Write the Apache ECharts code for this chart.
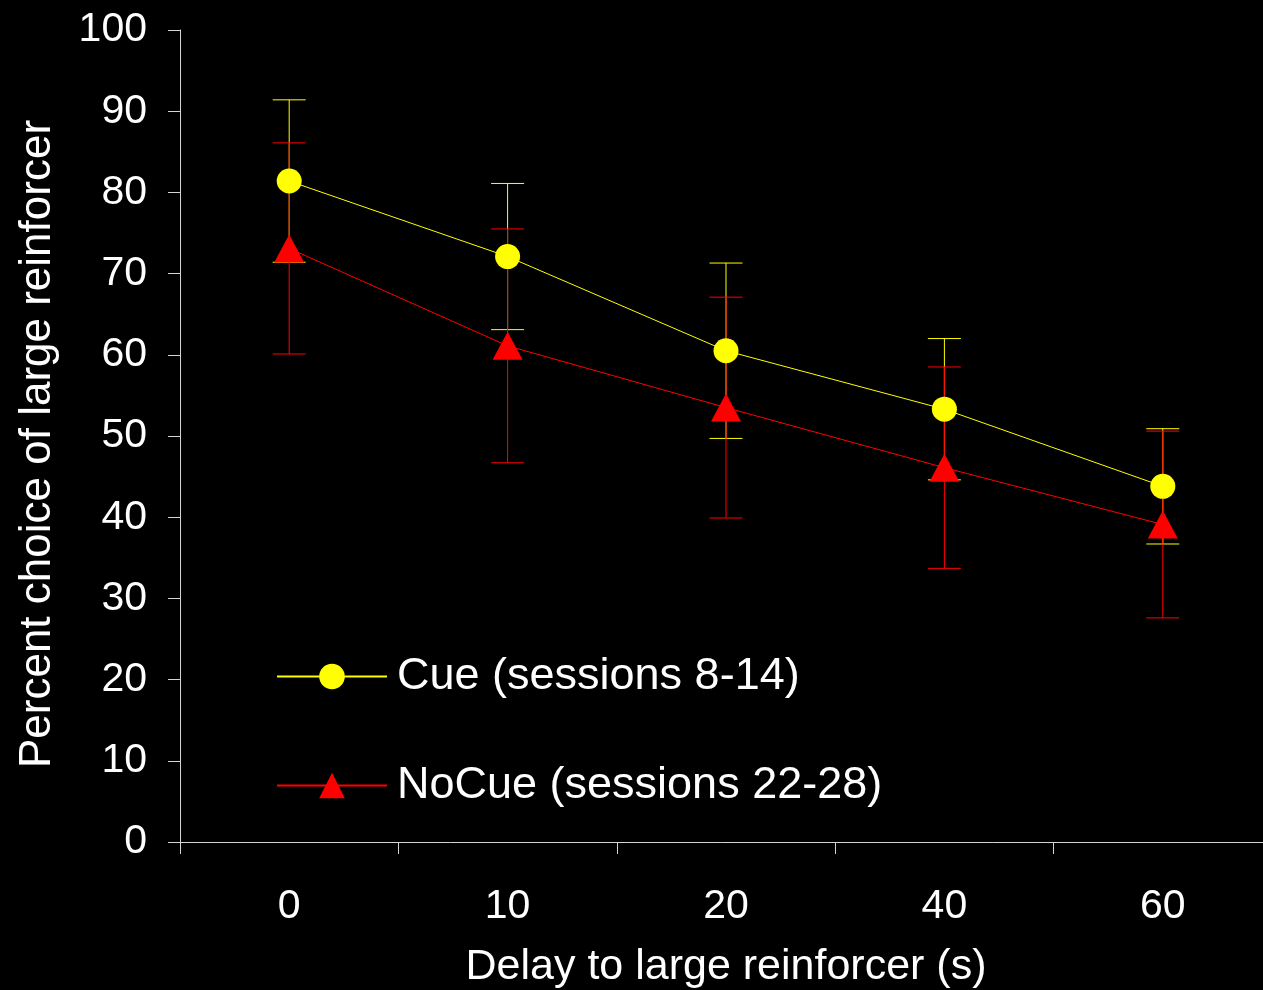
<!DOCTYPE html>
<html>
<head>
<meta charset="utf-8">
<title>Delay discounting: Cue vs NoCue</title>
<script src="https://cdn.jsdelivr.net/npm/echarts@6/dist/echarts.min.js"></script>
<style>
  html, body { margin: 0; padding: 0; background: #000; }
  #chart { width: 1263px; height: 990px; }
</style>
</head>
<body>
<div id="chart"></div>
<script>
// Delay to the large reinforcer (s), one category per delay
const delays = ['0', '10', '20', '40', '60'];

// Cue condition (sessions 8-14): mean % choice of large reinforcer and error
const cueMean = [81.4, 72.1, 60.5, 53.3, 43.8];
const cueErr = [10.0, 9.0, 10.8, 8.7, 7.1];

// NoCue condition (sessions 22-28)
const noCueMean = [73.1, 61.1, 53.5, 46.1, 39.1];
const noCueErr = [13.0, 14.4, 13.6, 12.4, 11.5];

const yTicks = { min: 0, max: 100, interval: 10 };

const CUE_NAME = 'Cue (sessions 8-14)';
const NOCUE_NAME = 'NoCue (sessions 22-28)';
const YELLOW = '#ffff00';
const RED = '#ff0000';
const AXIS = '#d4d4d4';
const FONT = '"Liberation Sans", Arial, sans-serif';

// Vertical error bars with caps, drawn through the chart's own coordinate system
function errorBars(name, means, errs, color) {
  return {
    type: 'custom',
    name: name,
    silent: true,
    z: 2,
    data: means.map((m, i) => [i, m - errs[i], m + errs[i]]),
    encode: { x: 0, y: [1, 2] },
    renderItem: function (params, api) {
      const i = api.value(0);
      const lo = api.coord([i, api.value(1)]);
      const hi = api.coord([i, api.value(2)]);
      const half = 16.5;
      const style = { stroke: color, lineWidth: 1 };
      return {
        type: 'group',
        children: [
          { type: 'line', shape: { x1: lo[0], y1: lo[1], x2: hi[0], y2: hi[1] }, style: style },
          { type: 'line', shape: { x1: lo[0] - half, y1: lo[1], x2: lo[0] + half, y2: lo[1] }, style: style },
          { type: 'line', shape: { x1: hi[0] - half, y1: hi[1], x2: hi[0] + half, y2: hi[1] }, style: style }
        ]
      };
    }
  };
}

const chart = echarts.init(document.getElementById('chart'), null, { renderer: 'canvas' });

chart.setOption({
  backgroundColor: '#000',
  animation: false,
  textStyle: { fontFamily: FONT },
  grid: {
    left: 180,
    top: 30,
    width: 1092,
    height: 812,
    containLabel: false,
    outerBoundsMode: 'none'
  },
  legend: {
    orient: 'vertical',
    left: 276,
    top: 654,
    padding: 0,
    itemWidth: 110,
    itemHeight: 32,
    itemGap: 64,
    data: [CUE_NAME, NOCUE_NAME],
    selectedMode: false,
    textStyle: {
      color: '#ffffff',
      fontSize: 45,
      fontFamily: FONT,
      lineHeight: 32,
      padding: [0, 0, 0, 5]
    }
  },
  xAxis: {
    type: 'category',
    data: delays,
    boundaryGap: true,
    name: 'Delay to large reinforcer (s)',
    nameLocation: 'middle',
    nameGap: 104,
    nameTextStyle: { color: '#ffffff', fontSize: 43, fontFamily: FONT },
    axisLine: { show: true, lineStyle: { color: AXIS, width: 1 } },
    axisTick: { show: true, alignWithLabel: false, length: 12, lineStyle: { color: AXIS } },
    axisLabel: { color: '#ffffff', fontSize: 41, margin: 44, fontFamily: FONT },
    splitLine: { show: false }
  },
  yAxis: {
    type: 'value',
    min: yTicks.min,
    max: yTicks.max,
    interval: yTicks.interval,
    name: 'Percent choice of large reinforcer',
    nameLocation: 'middle',
    nameRotate: 90,
    nameGap: 120,
    nameTextStyle: { color: '#ffffff', fontSize: 44, fontFamily: FONT, padding: [0, 16, 0, 0] },
    axisLine: { show: true, lineStyle: { color: AXIS, width: 1 } },
    axisTick: { show: true, length: 12, lineStyle: { color: AXIS } },
    axisLabel: { color: '#ffffff', fontSize: 41, margin: 33, fontFamily: FONT },
    splitLine: { show: false }
  },
  series: [
    errorBars('Cue error', cueMean, cueErr, YELLOW),
    errorBars('NoCue error', noCueMean, noCueErr, RED),
    {
      type: 'line',
      name: CUE_NAME,
      data: cueMean,
      z: 3,
      symbol: 'circle',
      symbolSize: 25,
      itemStyle: { color: YELLOW },
      lineStyle: { color: YELLOW, width: 1 }
    },
    {
      type: 'line',
      name: NOCUE_NAME,
      data: noCueMean,
      z: 4,
      symbol: 'triangle',
      symbolSize: [30, 28],
      itemStyle: { color: RED },
      lineStyle: { color: RED, width: 1 }
    }
  ]
});
</script>
</body>
</html>
